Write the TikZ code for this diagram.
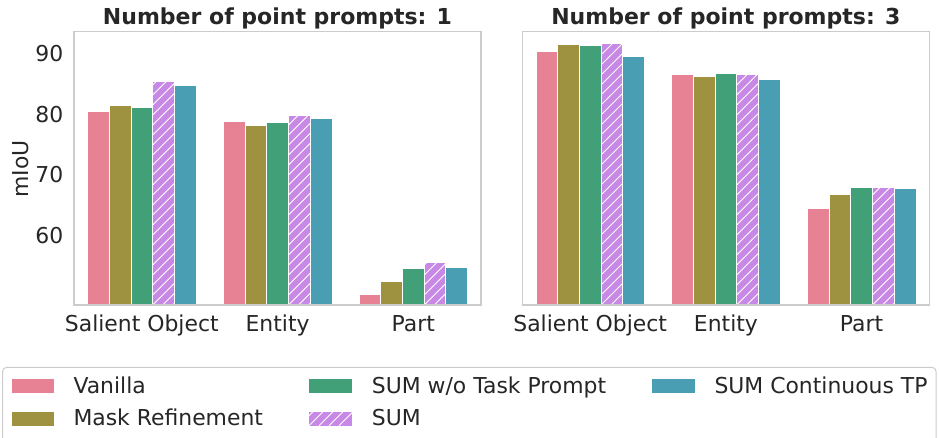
\documentclass[tikz,border=0pt]{standalone}
\usepackage{fontspec}
\setmainfont{DejaVu Sans}
\definecolor{cVan}{HTML}{E68294}
\definecolor{cMR}{HTML}{9E9241}
\definecolor{cWo}{HTML}{42A078}
\definecolor{cSUM}{HTML}{C789E5}
\definecolor{cCon}{HTML}{4A9EB3}
\definecolor{txt}{HTML}{262626}
\definecolor{frame}{HTML}{CCCCCC}
\tikzset{
  barbox/.style={draw=white, line width=0.8pt},
  axframe/.style={draw=frame, line width=1.2pt},
  ticklab/.style={inner sep=0pt, text=txt, font=\fontsize{21.9}{25}\selectfont},
  titlelab/.style={inner sep=0pt, text=txt, font=\fontsize{22}{26}\selectfont\bfseries},
}
\newcommand{\hatchfill}[4]{%
  \fill[cSUM] (#1,#2) rectangle (#3,#4);
  \begin{scope}
    \clip (#1,#2) rectangle (#3,#4);
    \foreach \k in {0,...,33} {
      \draw[white, line width=0.9pt] ({#1-300+10*\k},#4) -- ++(300,-300);
    }
  \end{scope}
}
% bar group: center x, five top y values
\newcommand{\bargroup}[6]{%
  \pgfmathsetmacro{\bw}{21.72}
  \pgfmathsetmacro{\xa}{#1-2.5*\bw}
  \pgfmathsetmacro{\xb}{#1-1.5*\bw}
  \pgfmathsetmacro{\xc}{#1-0.5*\bw}
  \pgfmathsetmacro{\xd}{#1+0.5*\bw}
  \pgfmathsetmacro{\xe}{#1+1.5*\bw}
  \pgfmathsetmacro{\xf}{#1+2.5*\bw}
  \fill[cVan] (\xa,#2) rectangle (\xb,305);
  \draw[barbox] (\xa,#2) rectangle (\xb,305);
  \fill[cMR] (\xb,#3) rectangle (\xc,305);
  \draw[barbox] (\xb,#3) rectangle (\xc,305);
  \fill[cWo] (\xc,#4) rectangle (\xd,305);
  \draw[barbox] (\xc,#4) rectangle (\xd,305);
  \hatchfill{\xd}{#5}{\xe}{305}
  \draw[barbox] (\xd,#5) rectangle (\xe,305);
  \fill[cCon] (\xe,#6) rectangle (\xf,305);
  \draw[barbox] (\xe,#6) rectangle (\xf,305);
}
\begin{document}
\begin{tikzpicture}[x=1pt,y=-1pt]
\useasboundingbox (0,0) rectangle (939,438);
\clip (0,0) rectangle (939,438);
\fill[white] (0,0) rectangle (939,438);

% ---------- left panel ----------
\bargroup{141.8}{111.3}{105}{107.3}{81.3}{85.3}
\bargroup{277.6}{121.3}{125.3}{122.3}{115}{118.7}
\bargroup{413.3}{294}{281.3}{268.7}{262.7}{267.3}
\draw[axframe] (74,31.3) rectangle (481,305);

% ---------- right panel ----------
\bargroup{590.2}{51}{44}{45}{43.7}{56}
\bargroup{725.9}{74.7}{76.3}{73}{74}{79.3}
\bargroup{861.6}{208}{194}{187.7}{187}{188.3}
\draw[axframe] (522.3,31.3) rectangle (929.3,305);

% titles
\node[titlelab, anchor=base] (t1) at (277.5,25) {Number of point prompts: 1};
\node[titlelab, anchor=base] (t2) at (725.8,25) {Number of point prompts: 3};

% y ticks
\node[ticklab, anchor=base east] (y90) at (63.5,61.7) {90};
\node[ticklab, anchor=base east] (y80) at (63.5,122.2) {80};
\node[ticklab, anchor=base east] (y70) at (63.5,182.7) {70};
\node[ticklab, anchor=base east] (y60) at (63.5,243.2) {60};
\node[ticklab, anchor=base, rotate=90] (ylab) at (28.3,169) {mIoU};

% x tick labels
\node[ticklab, anchor=base] (l1) at (141.8,331.7) {Salient Object};
\node[ticklab, anchor=base] (l2) at (277.6,331.7) {Entity};
\node[ticklab, anchor=base] (l3) at (413.3,331.7) {Part};
\node[ticklab, anchor=base] (r1) at (590.2,331.7) {Salient Object};
\node[ticklab, anchor=base] (r2) at (725.9,331.7) {Entity};
\node[ticklab, anchor=base] (r3) at (861.6,331.7) {Part};

% ---------- legend ----------
\draw[draw=frame, line width=1pt, fill=white, rounded corners=4pt] (2.7,367.3) rectangle (936,445);
\fill[cVan] (11.7,379) rectangle (54.3,393.3);
\node[ticklab, anchor=base west] (g1) at (73.3,393.3) {Vanilla};
\fill[cMR] (11.7,411.7) rectangle (54.3,425.7);
\node[ticklab, anchor=base west] (g2) at (73.3,425.7) {Mask Refinement};
\fill[cWo] (309,379) rectangle (352.3,393.3);
\node[ticklab, anchor=base west] (g3) at (371.7,393.3) {SUM w/o Task Prompt};
\hatchfill{309}{411.7}{352.3}{425.7}
\node[ticklab, anchor=base west] (g4) at (371.7,425.7) {SUM};
\fill[cCon] (652.3,379) rectangle (695.3,393.3);
\node[ticklab, anchor=base west] (g5) at (714.3,393.3) {SUM Continuous TP};
\end{tikzpicture}
\end{document}
